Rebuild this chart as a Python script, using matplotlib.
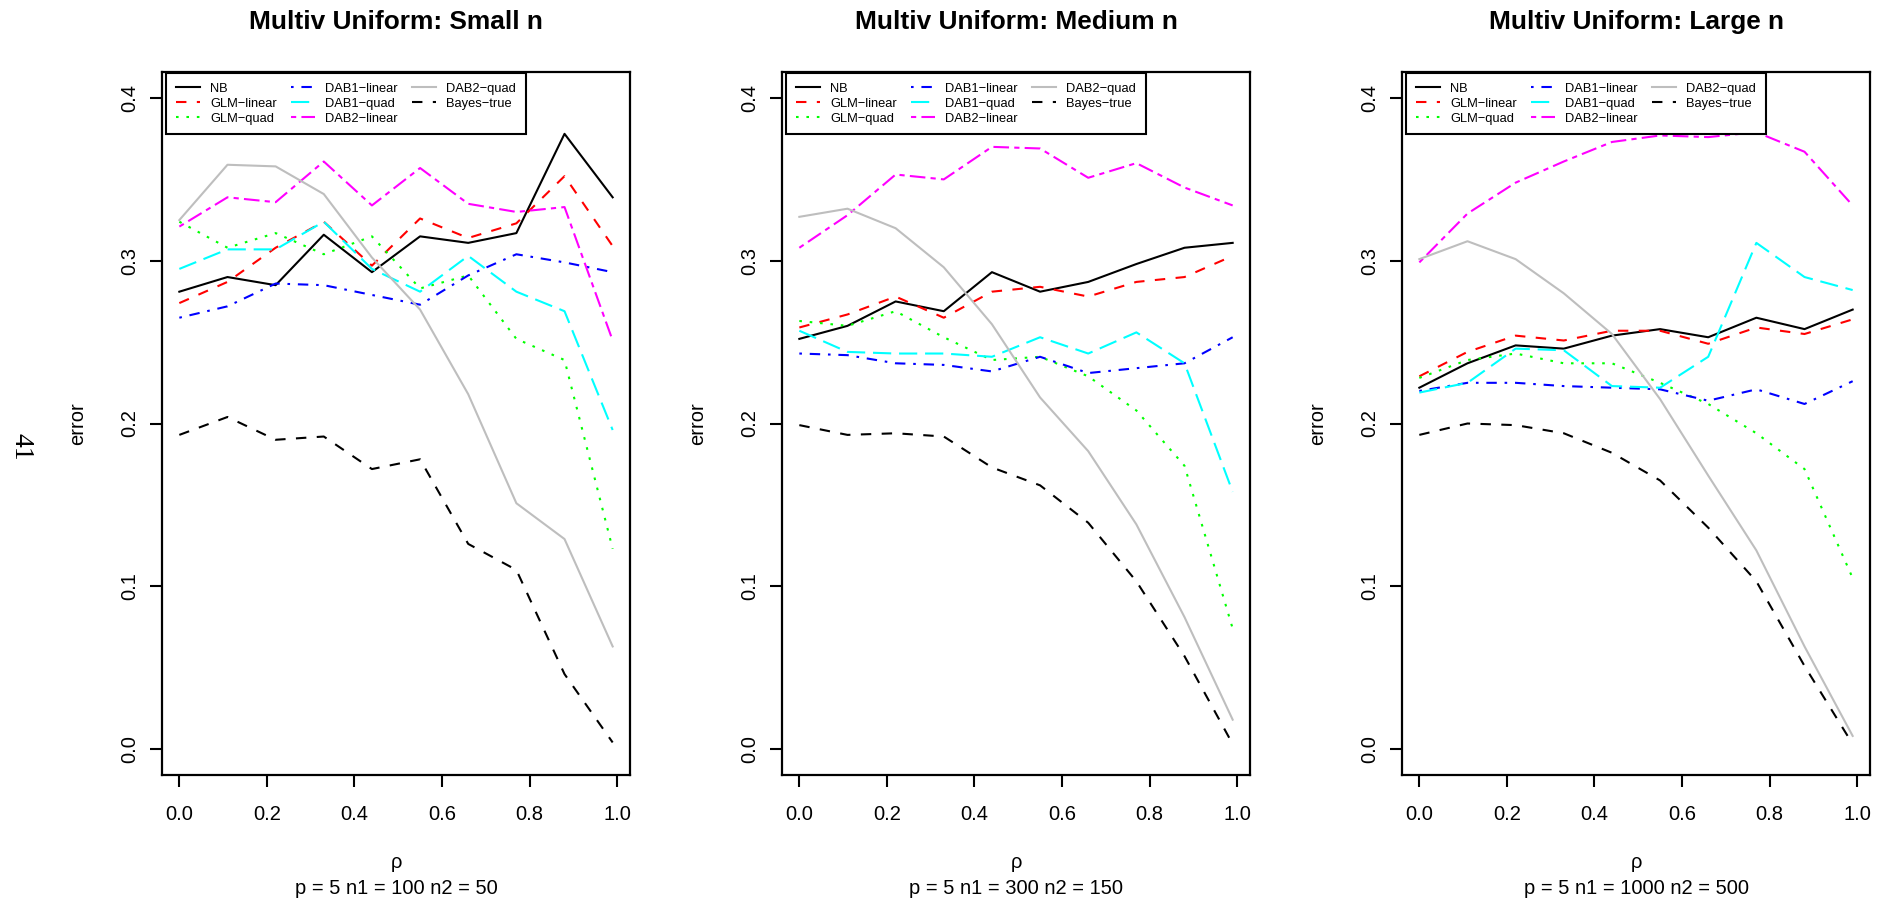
import matplotlib
matplotlib.use('Agg')
import matplotlib.pyplot as plt

plt.rcParams['font.family'] = ['Liberation Sans', 'DejaVu Sans']

# correlation grid (x axis)
rho = [0.0, 0.11, 0.22, 0.33, 0.44, 0.55, 0.66, 0.77, 0.88, 0.99]

methods = ['NB', 'GLM\u2212linear', 'GLM\u2212quad', 'DAB1\u2212linear',
           'DAB1\u2212quad', 'DAB2\u2212linear', 'DAB2\u2212quad', 'Bayes\u2212true']

titles = ['Multiv Uniform: Small n', 'Multiv Uniform: Medium n', 'Multiv Uniform: Large n']
subtitles = ['p = 5 n1 = 100 n2 = 50', 'p = 5 n1 = 300 n2 = 150', 'p = 5 n1 = 1000 n2 = 500']

# small n
nb_small = [0.281, 0.290, 0.285, 0.316, 0.293, 0.315, 0.311, 0.317, 0.378, 0.339]
glm_lin_small = [0.274, 0.287, 0.308, 0.324, 0.297, 0.326, 0.314, 0.323, 0.352, 0.309]
glm_quad_small = [0.324, 0.308, 0.317, 0.304, 0.315, 0.283, 0.291, 0.252, 0.239, 0.123]
dab1_lin_small = [0.265, 0.272, 0.286, 0.285, 0.279, 0.273, 0.291, 0.304, 0.299, 0.293]
dab1_quad_small = [0.295, 0.307, 0.307, 0.324, 0.295, 0.281, 0.303, 0.281, 0.269, 0.196]
dab2_lin_small = [0.321, 0.339, 0.336, 0.361, 0.334, 0.357, 0.335, 0.330, 0.333, 0.251]
dab2_quad_small = [0.325, 0.359, 0.358, 0.341, 0.302, 0.270, 0.218, 0.151, 0.129, 0.063]
bayes_small = [0.193, 0.204, 0.190, 0.192, 0.172, 0.178, 0.126, 0.110, 0.046, 0.004]

# medium n
nb_med = [0.252, 0.260, 0.275, 0.269, 0.293, 0.281, 0.287, 0.298, 0.308, 0.311]
glm_lin_med = [0.259, 0.267, 0.278, 0.265, 0.281, 0.284, 0.278, 0.287, 0.290, 0.303]
glm_quad_med = [0.263, 0.260, 0.269, 0.253, 0.239, 0.241, 0.229, 0.208, 0.174, 0.074]
dab1_lin_med = [0.243, 0.242, 0.237, 0.236, 0.232, 0.241, 0.231, 0.234, 0.237, 0.253]
dab1_quad_med = [0.257, 0.244, 0.243, 0.243, 0.241, 0.253, 0.243, 0.256, 0.237, 0.158]
dab2_lin_med = [0.308, 0.328, 0.353, 0.350, 0.370, 0.369, 0.351, 0.360, 0.345, 0.334]
dab2_quad_med = [0.327, 0.332, 0.320, 0.296, 0.261, 0.216, 0.183, 0.138, 0.081, 0.018]
bayes_med = [0.199, 0.193, 0.194, 0.192, 0.173, 0.162, 0.139, 0.103, 0.057, 0.003]

# large n
nb_large = [0.222, 0.237, 0.248, 0.246, 0.254, 0.258, 0.253, 0.265, 0.258, 0.270]
glm_lin_large = [0.229, 0.244, 0.254, 0.251, 0.257, 0.257, 0.249, 0.259, 0.255, 0.264]
glm_quad_large = [0.228, 0.239, 0.243, 0.237, 0.237, 0.225, 0.212, 0.194, 0.172, 0.105]
dab1_lin_large = [0.220, 0.225, 0.225, 0.223, 0.222, 0.221, 0.214, 0.221, 0.212, 0.226]
dab1_quad_large = [0.219, 0.225, 0.246, 0.245, 0.223, 0.222, 0.241, 0.311, 0.290, 0.282]
dab2_lin_large = [0.299, 0.329, 0.348, 0.361, 0.373, 0.377, 0.376, 0.379, 0.367, 0.334]
dab2_quad_large = [0.301, 0.312, 0.301, 0.280, 0.255, 0.215, 0.168, 0.122, 0.063, 0.008]
bayes_large = [0.193, 0.200, 0.199, 0.194, 0.182, 0.165, 0.136, 0.103, 0.051, 0.003]

panels = [
    [nb_small, glm_lin_small, glm_quad_small, dab1_lin_small, dab1_quad_small, dab2_lin_small, dab2_quad_small, bayes_small],
    [nb_med, glm_lin_med, glm_quad_med, dab1_lin_med, dab1_quad_med, dab2_lin_med, dab2_quad_med, bayes_med],
    [nb_large, glm_lin_large, glm_quad_large, dab1_lin_large, dab1_quad_large, dab2_lin_large, dab2_quad_large, bayes_large],
]

# R colours / line types 1..6,1,2
colors = ['black', '#FF0000', '#00FF00', '#0000FF', '#00FFFF', '#FF00FF', '#BEBEBE', 'black']
u = 1.25
styles = ['-', (0, (4*u, 4*u)), (0, (1*u, 3*u)), (0, (1*u, 3*u, 4*u, 3*u)),
          (0, (7*u, 3*u)), (0, (2*u, 2*u, 6*u, 2*u)), '-', (0, (4*u, 4*u))]
lw = 1.5

W, H = 1885, 906
fig = plt.figure(figsize=(W/100, H/100), dpi=100)

lefts = [162, 782, 1402]
pw, top, bot = 468, 72, 775
ph = bot - top

for i in range(3):
    ax = fig.add_axes([lefts[i]/W, (H-bot)/H, pw/W, ph/H])
    for k in range(len(methods)):
        ax.plot(rho, panels[i][k], color=colors[k], linestyle=styles[k], lw=lw, label=methods[k])

    ax.set_xlim(-0.0396, 1.0296)
    ax.set_ylim(-0.016, 0.416)
    ax.set_xticks([0, 0.2, 0.4, 0.6, 0.8, 1.0])
    ax.set_xticklabels(['0.0', '0.2', '0.4', '0.6', '0.8', '1.0'])
    ax.set_yticks([0, 0.1, 0.2, 0.3, 0.4])
    ax.set_yticklabels(['0.0', '0.1', '0.2', '0.3', '0.4'], rotation=90, va='center')
    ax.tick_params(axis='x', length=8.5, width=1.5, labelsize=14.5, pad=13)
    ax.tick_params(axis='y', length=8.5, width=1.5, labelsize=14.5, pad=8)
    for s in ax.spines.values():
        s.set_linewidth(1.6)

    ax.text(0.5, 1 + 50/ph, titles[i], transform=ax.transAxes, ha='center', va='center',
            fontsize=18.9, fontweight='bold')
    ax.text(0.5, -(862-bot)/ph, '\u03c1', transform=ax.transAxes, ha='center', va='center', fontsize=14.5)
    ax.text(0.5, -(888-bot)/ph, subtitles[i], transform=ax.transAxes, ha='center', va='center', fontsize=14.5)
    ax.text(-84/pw, 0.5, 'error', transform=ax.transAxes, ha='center', va='center',
            rotation=90, fontsize=14.5)

    leg = ax.legend(ncol=3, loc='upper left', bbox_to_anchor=(4/pw, 1 - 1/ph), borderaxespad=0,
                    fontsize=9.3, fancybox=False, edgecolor='black', framealpha=1,
                    handlelength=1.85, handletextpad=0.8, columnspacing=1.1,
                    borderpad=0.75, labelspacing=0.23)
    leg.get_frame().set_linewidth(1.5)

# page number left on the scanned figure
fig.text(21/W, 1 - 447/H, '41', rotation=270, fontsize=20, ha='center', va='center',
         family=['Liberation Serif', 'DejaVu Serif'])

fig.savefig('out.png', dpi=100)
